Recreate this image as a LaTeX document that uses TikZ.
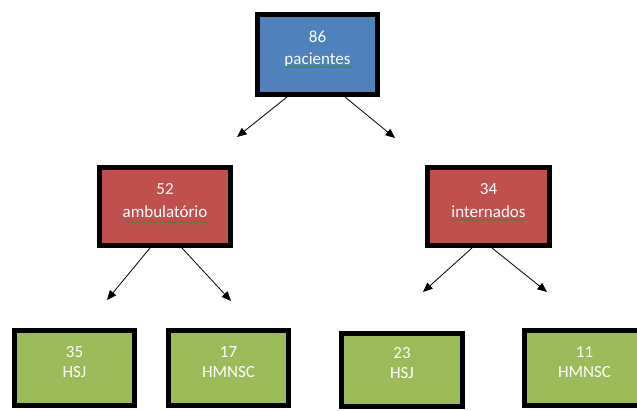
\documentclass[tikz,border=0pt]{standalone}
\usepackage{fontspec}
\setmainfont{Carlito}
\usetikzlibrary{arrows.meta,shadows,decorations.pathmorphing}
\definecolor{bxblue}{HTML}{4F81BD}
\definecolor{bxred}{HTML}{C0504D}
\definecolor{bxgreen}{HTML}{9BBB59}
\definecolor{squig}{HTML}{3C8A28}
\newcommand\twoline[3]{\raisebox{0pt}[\height][\dimexpr\depth+10pt\relax]{\fontsize{17}{#3}\selectfont\begin{tabular}{@{}c@{}}#1\\#2\end{tabular}}}
\tikzset{
  box/.style={draw=black,line width=5pt,text=white,inner sep=0pt,
    drop shadow={shadow xshift=2.5pt,shadow yshift=-2.5pt,opacity=0.25,fill=black!40}},
  bluebox/.style={box,fill=bxblue},
  redbox/.style={box,fill=bxred},
  greenbox/.style={box,fill=bxgreen},
  conn/.style={line width=0.8pt,-{Triangle[length=9.5pt,width=8pt]}},
  squiggle/.style={squig,line width=0.6pt,decorate,
    decoration={snake,segment length=3pt,amplitude=0.8pt}}
}
\begin{document}
\begin{tikzpicture}[x=1pt,y=-1pt]
\useasboundingbox (0,0) rectangle (637,410);
\clip (0,0) rectangle (637,410);
% top
\node[bluebox,minimum width=120pt,minimum height=80pt] (top) at (317.5,54.5) {\twoline{86}{pacientes}{22}};
% middle
\node[redbox,minimum width=131pt,minimum height=78pt] (amb) at (165,206.5) {\twoline{52}{ambulatório}{23}};
\node[redbox,minimum width=122pt,minimum height=78pt] (int) at (488.5,206.5) {\twoline{34}{internados}{23}};
% bottom
\node[greenbox,minimum width=120pt,minimum height=75pt] (a1) at (74.5,368) {\twoline{35}{HSJ}{20}};
\node[greenbox,minimum width=120pt,minimum height=75pt] (a2) at (228.5,368) {\twoline{17}{HMNSC}{20}};
\node[greenbox,minimum width=121pt,minimum height=73pt] (b1) at (402,369.5) {\twoline{23}{HSJ}{20}};
\node[greenbox,minimum width=120pt,minimum height=75pt] (b2) at (584.5,368) {\twoline{11}{HMNSC}{20}};
% arrow ends
\coordinate (e1) at (237,137);
\coordinate (e2) at (395,138);
\coordinate (e3) at (107,300);
\coordinate (e4) at (231,301);
\coordinate (e5) at (423,292);
\coordinate (e6) at (547,292);
\draw[conn] ([xshift=-30.5pt]top.south) -- (e1);
\draw[conn] ([xshift=27.5pt]top.south) -- (e2);
\draw[conn] ([xshift=-15pt]amb.south) -- (e3);
\draw[conn] ([xshift=17pt]amb.south) -- (e4);
\draw[conn] ([xshift=-16.5pt]int.south) -- (e5);
\draw[conn] ([xshift=3.5pt]int.south) -- (e6);
% spell-check squiggles
\draw[squiggle] (285,67) -- (352,67);
\draw[squiggle] (127,222) -- (210,222);
\draw[squiggle] (453,220) -- (528,220);
\end{tikzpicture}
\end{document}
